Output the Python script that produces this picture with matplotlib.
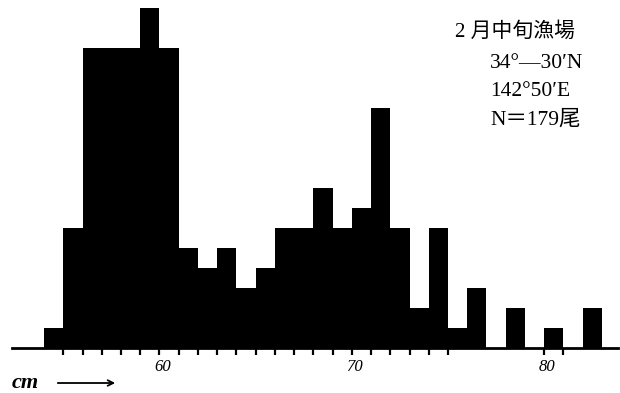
import matplotlib
matplotlib.use("Agg")
import matplotlib.pyplot as plt
import matplotlib.transforms as mtransforms
import numpy as np

# length classes (cm, left edge of each 1 cm bin) and fish counts
bin_left = list(range(54, 83))
counts = [1, 6, 15, 15, 15, 17, 15, 5, 4, 5,
          3, 4, 6, 6, 8, 6, 7, 12, 6, 2,
          6, 1, 3, 0, 2, 0, 1, 0, 2]

major_ticks = [60, 70, 80]
minor_ticks = list(range(55, 76)) + [81]
tick_labels = ["60", "70", "80"]

info_title = "2 月中旬漁場"
info_lines = ["34°—30′N", "142°50′E", "N＝179尾"]

fig = plt.figure(figsize=(6.2, 3.93), dpi=100)
ax = fig.add_axes([0, 0, 1, 1])

ax.bar(bin_left, counts, width=1, align="edge", color="black", linewidth=0)

ax.set_xlim(51.71, 83.94)
ax.set_ylim(-2.25, 17.4)

for s in ["top", "left", "right"]:
    ax.spines[s].set_visible(False)
ax.spines["bottom"].set_position(("data", 0))
ax.spines["bottom"].set_bounds(52.33, 83.83)
ax.spines["bottom"].set_linewidth(2.0)
ax.set_yticks([])

ax.set_xticks(major_ticks)
ax.set_xticklabels(tick_labels, fontsize=12, family="Liberation Serif",
                   style="italic")
ax.set_xticks(minor_ticks, minor=True)
ax.tick_params(axis="x", which="both", direction="out", length=5, width=1.6,
               pad=3)
# labels sit a little to the right of their tick, as in the drawing
off = mtransforms.ScaledTranslation(3 / 100, 0, fig.dpi_scale_trans)
for lab in ax.get_xticklabels():
    lab.set_transform(lab.get_transform() + off)

# unit marker under the axis
fig.text(12 / 620, 1 - 383 / 393, "cm", fontsize=16, style="italic",
         family="Liberation Serif", va="center", ha="left", weight="bold")
ax.annotate("", xy=(118 / 620, 1 - 383 / 393), xytext=(55 / 620, 1 - 383 / 393),
            xycoords="figure fraction", textcoords="figure fraction",
            arrowprops=dict(arrowstyle="->", lw=1.3, color="black"))

fam = ["Liberation Serif", "Noto Sans CJK JP"]
fig.text(455 / 620, 1 - 32 / 393, info_title, fontsize=15, family=fam,
         va="center", ha="left")
for i, line in enumerate(info_lines):
    fig.text(490 / 620, 1 - (63 + 28.5 * i) / 393, line, fontsize=15.5,
             family=fam, va="center", ha="left")

fig.savefig("out.png", dpi=100)
